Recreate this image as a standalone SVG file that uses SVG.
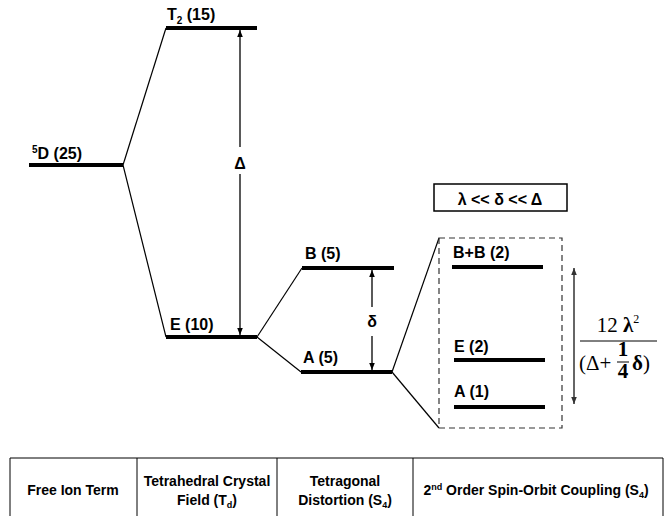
<svg xmlns="http://www.w3.org/2000/svg" width="671" height="516" viewBox="0 0 671 516">
<defs>
<style>
.lvl{stroke:#000;stroke-width:4;fill:none}
.thin{stroke:#000;stroke-width:1.2;fill:none}
.arr{stroke:#000;stroke-width:1.3;fill:none}
.lbl{font-family:"Liberation Sans",Arial,sans-serif;font-weight:bold;font-size:16px;fill:#000}
.tbl{font-family:"Liberation Sans",Arial,sans-serif;font-weight:bold;font-size:14px;fill:#000;text-anchor:middle}
.math{font-family:"Liberation Serif","DejaVu Serif",serif;font-size:21px;fill:#000}
</style>
<marker id="ah" viewBox="0 0 10 10" refX="10" refY="5" markerWidth="7" markerHeight="7" orient="auto-start-reverse" markerUnits="userSpaceOnUse">
<path d="M0,1 L10,5 L0,9 z" fill="#000"/>
</marker>
<marker id="ahg" viewBox="0 0 10 10" refX="10" refY="5" markerWidth="7" markerHeight="7" orient="auto-start-reverse" markerUnits="userSpaceOnUse">
<path d="M0,1 L10,5 L0,9 z" fill="#333"/>
</marker>
</defs>
<rect width="671" height="516" fill="#fff"/>

<g id="connectors">
<line class="thin" x1="123" y1="165" x2="166" y2="28"/>
<line class="thin" x1="123" y1="165" x2="166" y2="337"/>
<line class="thin" x1="257" y1="337" x2="302" y2="268"/>
<line class="thin" x1="257" y1="337" x2="301" y2="372"/>
<line class="thin" x1="392" y1="372" x2="439" y2="238"/>
<line class="thin" x1="392" y1="372" x2="439" y2="428"/>
<line class="arr" x1="240" y1="147" x2="240" y2="30" marker-end="url(#ah)"/>
<line class="arr" x1="240" y1="174" x2="240" y2="335" marker-end="url(#ah)"/>
<line class="arr" x1="372" y1="307" x2="372" y2="270" marker-end="url(#ah)"/>
<line class="arr" x1="372" y1="336" x2="372" y2="370" marker-end="url(#ah)"/>
<line x1="574" y1="268" x2="574" y2="404" stroke="#333" stroke-width="1.5" marker-start="url(#ahg)" marker-end="url(#ahg)"/>
</g>

<g id="n-5D">
<line class="lvl" x1="29" y1="165" x2="123" y2="165"/>
<text class="lbl" x="32" y="159"><tspan font-size="10" dy="-6">5</tspan><tspan dy="6">D (25)</tspan></text>
</g>
<g id="n-T2">
<line class="lvl" x1="166" y1="28" x2="257" y2="28"/>
<text class="lbl" x="167" y="20">T<tspan font-size="10" dy="4">2</tspan><tspan dy="-4"> (15)</tspan></text>
</g>
<g id="n-E10">
<line class="lvl" x1="166" y1="337" x2="257" y2="337"/>
<text class="lbl" x="170" y="330">E (10)</text>
</g>
<g id="n-B5">
<line class="lvl" x1="302" y1="268" x2="394" y2="268"/>
<text class="lbl" x="305" y="259">B (5)</text>
</g>
<g id="n-A5">
<line class="lvl" x1="301" y1="372" x2="392" y2="372"/>
<text class="lbl" x="303" y="363">A (5)</text>
</g>
<g id="delta-labels">
<text class="lbl" x="240" y="169" text-anchor="middle" font-size="18">Δ</text>
<text class="lbl" x="372" y="327" text-anchor="middle" font-size="18">δ</text>
</g>
<g id="n-cond">
<rect x="434" y="184" width="133" height="27" fill="#fff" stroke="#000" stroke-width="1.5"/>
<text class="lbl" x="500" y="205" text-anchor="middle">λ &lt;&lt; δ &lt;&lt; Δ</text>
</g>
<g id="n-box">
<rect x="439" y="238" width="123" height="190" fill="none" stroke="#333" stroke-width="1.2" stroke-dasharray="6,4"/>
</g>
<g id="n-BB2">
<line class="lvl" x1="452" y1="267" x2="543" y2="267"/>
<text class="lbl" x="453" y="258">B+B (2)</text>
</g>
<g id="n-E2">
<line class="lvl" x1="454" y1="360" x2="545" y2="360"/>
<text class="lbl" x="454" y="352">E (2)</text>
</g>
<g id="n-A1">
<line class="lvl" x1="454" y1="407" x2="545" y2="407"/>
<text class="lbl" x="454" y="397">A (1)</text>
</g>
<g id="n-frac">
<text class="math" x="618" y="332" text-anchor="middle">12 <tspan font-weight="bold">λ</tspan><tspan font-size="12" dy="-9">2</tspan></text>
<line x1="580" y1="341" x2="657" y2="341" stroke="#000" stroke-width="1"/>
<text class="math" x="579" y="370">(Δ+</text>
<text class="math" x="623" y="356" text-anchor="middle" font-weight="bold" font-size="14">1</text>
<line x1="617" y1="362" x2="629" y2="362" stroke="#000" stroke-width="1"/>
<text class="math" x="623" y="378" text-anchor="middle" font-weight="bold" font-size="14">4</text>
<text class="math" x="632" y="370"><tspan font-weight="bold">δ</tspan>)</text>
</g>

<g id="table">
<line x1="10" y1="458" x2="663" y2="458" stroke="#000" stroke-width="1"/>
<line x1="10" y1="458" x2="10" y2="516" stroke="#000" stroke-width="1"/>
<line x1="137" y1="458" x2="137" y2="516" stroke="#000" stroke-width="1"/>
<line x1="277" y1="458" x2="277" y2="516" stroke="#000" stroke-width="1"/>
<line x1="413" y1="458" x2="413" y2="516" stroke="#000" stroke-width="1"/>
<line x1="663" y1="458" x2="663" y2="516" stroke="#000" stroke-width="1"/>
<text class="tbl" x="73" y="495">Free Ion Term</text>
<text class="tbl" x="207" y="486">Tetrahedral Crystal</text>
<text class="tbl" x="207" y="505">Field (T<tspan font-size="9" dy="3">d</tspan><tspan dy="-3">)</tspan></text>
<text class="tbl" x="345" y="486">Tetragonal</text>
<text class="tbl" x="345" y="505">Distortion (S<tspan font-size="9" dy="3">4</tspan><tspan dy="-3">)</tspan></text>
<text class="tbl" x="536" y="495">2<tspan font-size="9" dy="-5">nd</tspan><tspan dy="5"> Order Spin-Orbit Coupling (S</tspan><tspan font-size="9" dy="3">4</tspan><tspan dy="-3">)</tspan></text>
</g>
</svg>
